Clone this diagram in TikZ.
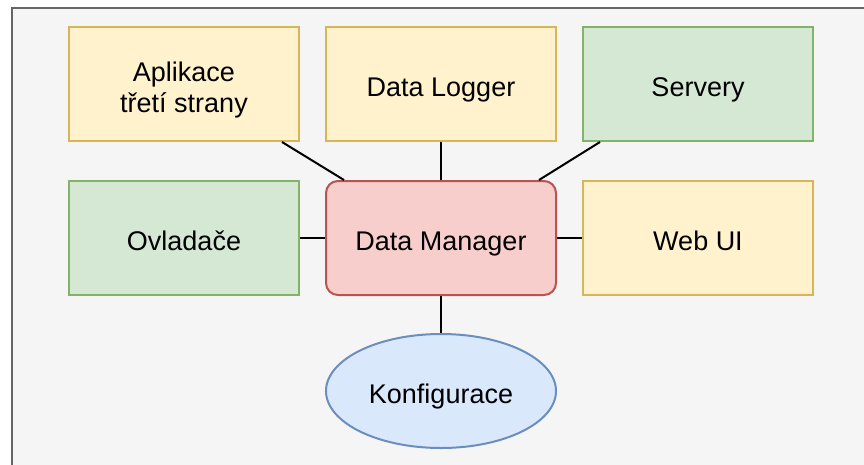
\documentclass[tikz,border=0pt]{standalone}
\usepackage{fontspec}
\setmainfont{Liberation Sans}
\usetikzlibrary{shapes.geometric}
\definecolor{bgfill}{HTML}{F5F5F5}
\definecolor{bgline}{HTML}{666666}
\definecolor{yfill}{HTML}{FFF2CC}
\definecolor{yline}{HTML}{D6B656}
\definecolor{gfill}{HTML}{D5E8D4}
\definecolor{gline}{HTML}{82B366}
\definecolor{rfill}{HTML}{F8CECC}
\definecolor{rline}{HTML}{B85450}
\definecolor{bfill}{HTML}{DAE8FC}
\definecolor{bline}{HTML}{6C8EBF}
\begin{document}
\begin{tikzpicture}[x=1pt,y=-1pt,
  every node/.style={font=\fontsize{27}{31}\selectfont, align=center, inner sep=0pt,
    text height=25pt, text depth=0pt},
  twolines/.style={text height=56pt, text depth=0pt},
  box/.style={rectangle, minimum width=230pt, minimum height=114pt, line width=2pt},
  yellowbox/.style={box, fill=yfill, draw=yline},
  greenbox/.style={box, fill=gfill, draw=gline},
  redbox/.style={box, fill=rfill, draw=rline, rounded corners=12pt},
  bluebox/.style={ellipse, minimum width=230pt, minimum height=114pt, line width=2pt, fill=bfill, draw=bline},
  link/.style={line width=2pt, draw=black}]
  \useasboundingbox (0,0) rectangle (864,464);
  % panel behind the diagram
  \draw[fill=bgfill, draw=bgline, line width=2.5pt] (12,8) rectangle (880,480);

  \node[yellowbox, twolines] (apl) at (184,84) {Aplikace\\třetí strany};
  \node[yellowbox] (log) at (441,84) {Data Logger};
  \node[greenbox]  (srv) at (698,84) {Servery};
  \node[greenbox]  (ovl) at (184,238) {Ovladače};
  \node[redbox]    (dm)  at (441,238) {Data Manager};
  \node[yellowbox] (web) at (698,238) {Web UI};
  \node[bluebox]   (cfg) at (441,391) {Konfigurace};

  \draw[link] ([xshift=-18pt]apl.south east) -- ([xshift=19pt]dm.north west);
  \draw[link] (log.south) -- (dm.north);
  \draw[link] ([xshift=18pt]srv.south west) -- ([xshift=-18pt]dm.north east);
  \draw[link] (ovl.east) -- (dm.west);
  \draw[link] (dm.east) -- (web.west);
  \draw[link] (dm.south) -- (cfg.north);
\end{tikzpicture}
\end{document}
